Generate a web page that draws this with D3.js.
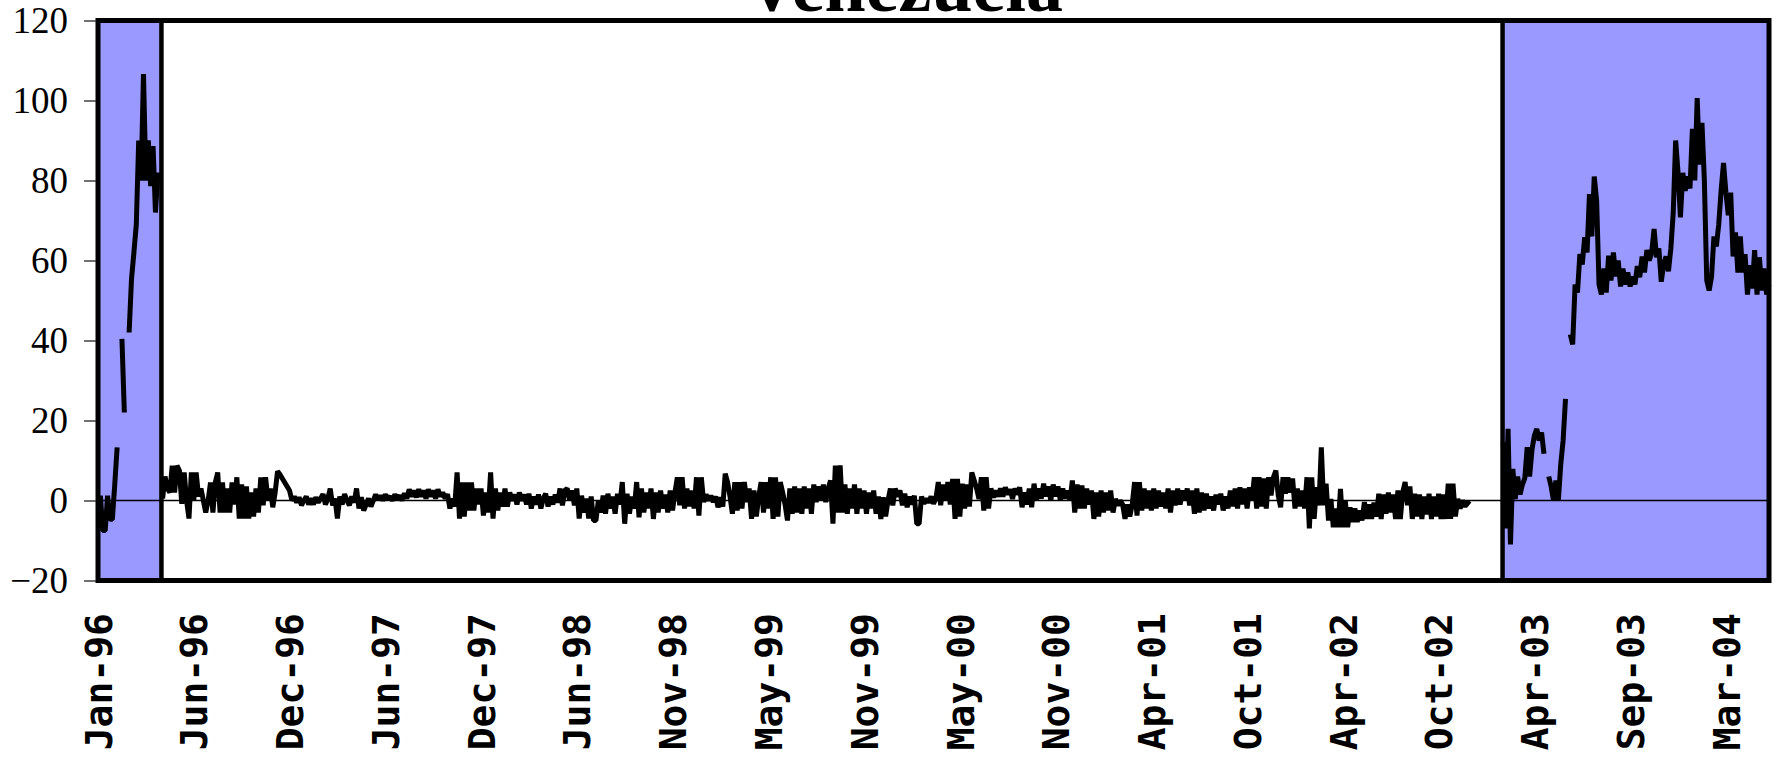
<!DOCTYPE html>
<html>
<head>
<meta charset="utf-8">
<script src="https://cdn.jsdelivr.net/npm/d3@7"></script>
<style>
  html, body { margin: 0; padding: 0; background: #fff; overflow: hidden; }
  svg { display: block; }
</style>
</head>
<body>
<svg id="chart" width="1776" height="761"></svg>
<script>
// Category labels shown along the bottom, one every `obsPerLabel` observations
const tickLabels = ["Jan-96", "Jun-96", "Dec-96", "Jun-97", "Dec-97", "Jun-98", "Nov-98", "May-99",
  "Nov-99", "May-00", "Nov-00", "Apr-01", "Oct-01", "Apr-02", "Oct-02", "Apr-03", "Sep-03", "Mar-04"];
const obsPerLabel = 40;

// Parallel-market premium (%), one value per observation; null = no quote
const premium = [
  null, 1.2, -7.5, -7.5, 1.2, -4.7, -4.7, 4, 13.3, null, 40.4, 22, null, 42, 55.4, 62, 69, 90, 80, 106.6,
  80, 90, 78.6, 88.6, 72, 82, null, 0.5, 6, 3, 2, 8.7, 2, 8.7, 7.5, -0.8, 7, 0, -4.5, 7,
  0, 7, 1, 3, 0, -3, 0, 4.5, -3, 4.5, 7, -3, 4.5, -3, 3, -3, 4.5, -1, 5.8, -4.5,
  4, -4.5, 3.5, -4.5, 2, -4, 3, -3, 5.8, -1.2, 5.8, 0, 3, -1.7, 2, 7.3, 6.5, 5.5, 4.5, 3.5,
  2.5, 0, 1, -0.5, 0.8, -1.2, 0, 1, -1, 0.5, -1, 0.8, -0.5, 0.5, 1.6, -1, 0.5, 3, -1.2, 0.5,
  -4.5, 1, -1, 1.6, 0, -1.2, 1, -0.5, 3, -2, 0.8, -2.5, -1, 0.5, -1.5, 0, 1.5, 0.2, 1.2, 0,
  1.5, 0.5, 1, 0, 1.5, 0.5, 1.2, 0, 1.8, 0.5, 2.8, 1, 2.5, 0.8, 2.8, 1, 2.5, 0.5, 2.8, 1,
  2.5, 0.5, 2.8, 1, 2, 0.5, 1.6, -2, 0.5, -1.5, 7, -4.5, 4.5, -4, 4.5, -2.5, 4.5, -2.5, 3, -1,
  3, -3.75, 2, -3, 7, -4.5, 3, -2.5, 2, -1.5, 3, -1.5, 2, 0, 1.5, -1, 2, 0, 1.5, -1,
  1.7, -2, 1, -1, 1.5, -2, 0.5, 1.7, -1.5, 1, -1, 1.5, -0.5, 3, -1.2, 2.5, 3, 0, 2.5, -1.2,
  3, -4.5, 1.2, -3, 0.5, -4.5, 1, -5, -5, 0, -3, 1.2, -3.3, 1.7, -2, 1, -3.3, 1.7, -1, 4.6,
  -5.8, 1.7, -3.3, 1, -2, 4.6, -4.2, 3, -3, 2, -2, 3, -4.6, 2, -3, 2.5, -2, 1.5, -3, 2.5,
  -2.5, 2, 5.8, -1.2, 5.8, -2, 3, -1.5, 2.5, -2, 5.8, -3.8, 5.8, -0.4, 1.5, 0, 1.2, -0.4, 1, -1.7,
  0.8, -1.5, 6.7, 4.5, 1, -3.3, 4.6, -2.5, 4.6, -2, 4.6, -0.4, 3, -4.6, 2.5, -4, 1, 4.6, -3, 4.6,
  -2, 5.8, -4.6, 5.8, -4, 4.6, 2, -1, -5, 3, -3.3, 3.5, -3, 3, -3.3, 3.5, -2, 3, -3.3, 4,
  -0.4, 3.5, 0, 4, -0.4, 3, 5, -5.8, 8.75, -3, 8.75, -3, 4, -3.3, 3, -2, 4, -3.3, 3, -2,
  2.5, -3.3, 2, -2, 2.5, -3.3, 1, -4.6, 0.8, -4, 0, 3, -1.2, 3, 1, 2.5, -1.2, 1.7, -1.7, 1,
  -1, 1.2, -5.8, -5.8, 1, -0.8, 0.5, -0.5, 1, -0.8, 0.5, 4.6, -1.2, 4, 0, 4.6, -1, 5.4, -4.6, 5.4,
  -4, 4.2, -2, 4, -1.5, 7, 5, 3, 0.4, 5.8, -2.5, 5.8, -2, 3, 0.8, 2.5, 1, 3, 1, 3.3,
  1.5, 2.8, 0.4, 3, 1.5, 3.3, -1.7, 2, -1, 3, -1.7, 4.2, 0, 3, 0.5, 4.2, 1, 3.5, 0, 4,
  1, 3.5, 0, 3, 0.5, 2.5, 0, 5, -3, 4, -2, 3.75, -2, 3, -1, 2.5, -4.6, 2, -4, 2.5,
  -3, 2, -2.5, 2.5, -3, 0.4, -1.2, 0, -1, -4.6, -1, -4, -1, 4.6, -3.75, 4.6, -2.5, 3, -2, 2.5,
  -2.5, 3, -2, 2.5, -1.5, 2, -2, 3, -3, 2.5, -1.2, 3, -1, 2.5, 0, 3, -1.2, 2.5, -3.3, 3,
  -3, 2, -2.5, 1.7, -2, 1, -2.5, 1.5, -1, 1.7, -2.5, 1, -2, 2.5, -1.5, 3, -2, 3.3, -1, 3,
  -2, 3.3, 0, 5.8, -2, 5.8, -1.5, 5.5, -2, 5.8, 1.25, 5.8, 7.5, 1.25, -1.7, 5.8, 1.7, 5.8, 2, 5.5,
  -2, 3, -1.5, 2.5, -2, 5.8, -7, 5.8, -4.6, 3.3, -1.2, 13.3, -1.2, 4.2, -5, 0.4, -6.7, -2, -6.7, 2.9,
  -6.7, 0, -6.7, -1.7, -5.4, -2, -5.4, -2.5, -5, -0.4, -4.6, -1, -4.6, -0.5, -4, 1.7, -4.6, 1.5, -3.3, 2,
  -3, 1.5, -4.6, 2.5, -4.6, 2, 4.6, -1.2, 3.5, -4.6, 1.7, -4, 1.5, -4.6, 1, -3.5, 1.7, -4.6, 1, -4,
  1.7, -4.6, 1.5, -4.6, 4.2, -4.6, 4.2, -4, 0.4, -2, 0, -1.5, -0.5, -1, null, null, null, null, null, null,
  null, null, null, null, null, null, null, 14.6, -7, 17.9, -11, 7.9, 0.4, 6, 1.5, 4, 5.6, 13.3, 6, 12.7,
  16.2, 17.9, 15, 17, 11.7, null, 6, 3.5, 0, 5, 0, 9, 15, 25.4, null, 41.5, 39, 54, 52, 61.6,
  59, 65.8, 62, 76.6, 66, 81, 75, 54, 51.5, 58, 52, 61.2, 55, 62, 56, 60, 53.5, 58, 54, 57,
  53.5, 56, 54, 58.6, 55.8, 61, 57, 62.6, 60, 62, 67.9, 60.8, 63, 54.7, 59, 61, 57.3, 63, 72, 90,
  82, 70.8, 81.9, 77.4, 81, 78, 92.9, 80, 100.6, 84, 94.4, 80, 55, 52.5, 56, 66, 63.5, 69, 77.5, 84.4,
  77, 71.3, 77, 61, 67, 57, 66, 57, 61.6, 51.5, 58.8, 53, 62.6, 51.5, 60.8, 52.5, 58, 51.5, 54
];

// Exchange-control periods, as observation-index ranges (shaded)
const controlStart = [0, 586.7];
const controlEnd = [26.5, 698];

const yTicks = [-20, 0, 20, 40, 60, 80, 100, 120];
const chartTitle = "Venezuela";

// ---- layout ----
const plot = { left: 98, right: 1769, top: 20.5, bottom: 580.5 };
const bandColor = "#9999FF";

const svg = d3.select("#chart");

const x = d3.scaleLinear().domain([0, premium.length - 1]).range([plot.left, plot.right]);
const y = d3.scaleLinear().domain([-20, 120]).range([plot.bottom, plot.top]);

// title (sits partly above the canvas)
svg.append("text")
  .attr("x", 904).attr("y", 11)
  .attr("text-anchor", "middle")
  .style("font-family", "'Liberation Serif', 'Times New Roman', serif")
  .style("font-weight", "bold")
  .style("font-size", "74px")
  .text(chartTitle);

// shaded control periods
const periods = controlStart.map((s, k) => ({ s, e: controlEnd[k] }));
svg.append("g").selectAll("rect").data(periods).join("rect")
  .attr("x", d => x(d.s)).attr("y", y(120))
  .attr("width", d => x(d.e) - x(d.s)).attr("height", y(-20) - y(120))
  .attr("fill", bandColor);

// band edges inside the plot
const edges = periods.flatMap(d => [d.s, d.e]).filter(v => v > 0 && v < premium.length - 1);
svg.append("g").selectAll("line").data(edges).join("line")
  .attr("x1", d => x(d)).attr("x2", d => x(d))
  .attr("y1", y(120)).attr("y2", y(-20))
  .attr("stroke", "#000").attr("stroke-width", 4.5);

// zero line
svg.append("line")
  .attr("x1", plot.left).attr("x2", plot.right)
  .attr("y1", y(0)).attr("y2", y(0))
  .attr("stroke", "#000").attr("stroke-width", 1.3);

// premium series
const line = d3.line()
  .defined(d => d !== null)
  .x((d, i) => x(i))
  .y(d => y(d));

svg.append("path")
  .datum(premium)
  .attr("d", line)
  .attr("fill", "none")
  .attr("stroke", "#000")
  .attr("stroke-width", 5)
  .attr("stroke-linejoin", "bevel")
  .attr("stroke-linecap", "butt");

// plot frame
svg.append("rect")
  .attr("x", plot.left).attr("y", plot.top)
  .attr("width", plot.right - plot.left).attr("height", plot.bottom - plot.top)
  .attr("fill", "none").attr("stroke", "#000").attr("stroke-width", 5);

// y axis
const yAxis = svg.append("g")
  .attr("transform", `translate(${plot.left - 2},0)`)
  .call(d3.axisLeft(y).tickValues(yTicks).tickSize(12).tickPadding(16).tickFormat(d3.format("d")));
yAxis.select(".domain").remove();
yAxis.selectAll(".tick line").attr("stroke", "#222").attr("stroke-width", 1.3);
yAxis.selectAll(".tick text")
  .attr("fill", "#000")
  .style("font-family", "'Liberation Serif', 'Times New Roman', serif")
  .style("font-size", "37px");

// x category labels, rotated
const xTickIdx = tickLabels.map((_, k) => k * obsPerLabel);
svg.append("g").selectAll("text").data(xTickIdx).join("text")
  .attr("transform", d => `translate(${x(d)},613) rotate(-90)`)
  .attr("text-anchor", "end")
  .attr("dy", "0.36em")
  .style("font-family", "'DejaVu Sans Mono', monospace")
  .style("font-weight", "bold")
  .style("font-size", "38px")
  .attr("fill", "#000")
  .text((d, k) => tickLabels[k]);
</script>
</body>
</html>
